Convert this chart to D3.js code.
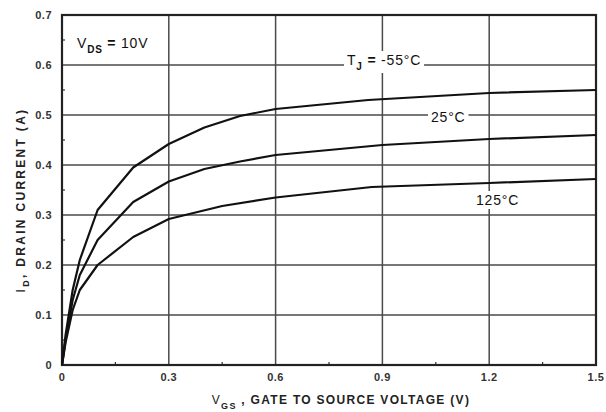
<!DOCTYPE html>
<html>
<head>
<meta charset="utf-8">
<script src="https://d3js.org/d3.v7.min.js"></script>
<style>
  body { margin: 0; background: #fff; }
  text { font-family: "Liberation Sans", Arial, sans-serif; }
</style>
</head>
<body>
<div class="chart"></div>
<script>
  // curve data (VGS in V, ID in A)
  const vgs55  = [0, 0.01, 0.03, 0.05, 0.1, 0.2, 0.3, 0.4, 0.5, 0.6, 0.86, 1.2, 1.5];
  const id55   = [0, 0.06, 0.15, 0.21, 0.31, 0.395, 0.442, 0.475, 0.498, 0.512, 0.53, 0.544, 0.55];
  const vgs25  = [0, 0.01, 0.03, 0.05, 0.1, 0.2, 0.3, 0.4, 0.5, 0.6, 0.9, 1.2, 1.5];
  const id25   = [0, 0.05, 0.13, 0.18, 0.25, 0.326, 0.367, 0.392, 0.407, 0.42, 0.44, 0.452, 0.46];
  const vgs125 = [0, 0.01, 0.03, 0.05, 0.1, 0.2, 0.3, 0.45, 0.6, 0.87, 1.2, 1.5];
  const id125  = [0, 0.045, 0.11, 0.15, 0.2, 0.256, 0.292, 0.318, 0.335, 0.356, 0.364, 0.372];

  const xTicks = [0, 0.3, 0.6, 0.9, 1.2, 1.5];
  const xTickLabels = ['0', '0.3', '0.6', '0.9', '1.2', '1.5'];
  const yTicks = [0, 0.1, 0.2, 0.3, 0.4, 0.5, 0.6, 0.7];
  const yTickLabels = ['0', '0.1', '0.2', '0.3', '0.4', '0.5', '0.6', '0.7'];
  const xMinor = [0.15, 0.45, 0.75, 1.05, 1.35];
  const yMinor = [0.05, 0.15, 0.25, 0.35, 0.45, 0.55, 0.65];

  const W = 606, H = 412;
  const pl = 62, pr = 596, pt = 15, pb = 365;

  const svg = d3.select('.chart')
    .append('svg')
    .attr('width', W)
    .attr('height', H);

  const x = d3.scaleLinear().domain([0, 1.5]).range([pl, pr]);
  const y = d3.scaleLinear().domain([0, 0.7]).range([pb, pt]);

  // grid
  svg.append('g').selectAll('line')
    .data(yTicks)
    .enter()
    .append('line')
    .attr('x1', pl).attr('x2', pr)
    .attr('y1', d => y(d)).attr('y2', d => y(d))
    .attr('stroke', '#4a4a4a')
    .attr('stroke-width', 1.5);

  svg.append('g').selectAll('line')
    .data(xTicks)
    .enter()
    .append('line')
    .attr('y1', pt).attr('y2', pb)
    .attr('x1', d => x(d)).attr('x2', d => x(d))
    .attr('stroke', '#4a4a4a')
    .attr('stroke-width', 1.5);

  // minor ticks along the frame
  svg.append('g').selectAll('line')
    .data(xMinor)
    .enter()
    .append('line')
    .attr('x1', d => x(d)).attr('x2', d => x(d))
    .attr('y1', pb).attr('y2', pb - 3)
    .attr('stroke', '#333').attr('stroke-width', 1.2);

  svg.append('g').selectAll('line')
    .data(yMinor)
    .enter()
    .append('line')
    .attr('x1', pl).attr('x2', pl + 3)
    .attr('y1', d => y(d)).attr('y2', d => y(d))
    .attr('stroke', '#333').attr('stroke-width', 1.2);

  // frame
  svg.append('rect')
    .attr('x', pl).attr('y', pt)
    .attr('width', pr - pl).attr('height', pb - pt)
    .attr('fill', 'none')
    .attr('stroke', '#222')
    .attr('stroke-width', 2.2);

  // tick labels
  svg.append('g').selectAll('text')
    .data(yTicks)
    .enter()
    .append('text')
    .attr('x', pl - 10)
    .attr('y', d => y(d) + 4)
    .attr('text-anchor', 'end')
    .attr('font-size', '11px')
    .attr('font-weight', 'bold')
    .attr('letter-spacing', '0.5px')
    .attr('fill', '#333')
    .text((d, i) => yTickLabels[i]);

  svg.append('g').selectAll('text')
    .data(xTicks)
    .enter()
    .append('text')
    .attr('x', d => x(d))
    .attr('y', pb + 16)
    .attr('text-anchor', 'middle')
    .attr('font-size', '11px')
    .attr('font-weight', 'bold')
    .attr('letter-spacing', '0.5px')
    .attr('fill', '#333')
    .text((d, i) => xTickLabels[i]);

  // curves
  const line = d3.line()
    .x(d => x(d[0]))
    .y(d => y(d[1]))
    .curve(d3.curveLinear);

  const series = [
    d3.zip(vgs55, id55),
    d3.zip(vgs25, id25),
    d3.zip(vgs125, id125)
  ];

  svg.append('g').selectAll('path')
    .data(series)
    .enter()
    .append('path')
    .attr('d', line)
    .attr('fill', 'none')
    .attr('stroke', '#111')
    .attr('stroke-width', 2.2)
    .attr('stroke-linejoin', 'round');

  // labels inside plot, with white box behind
  function label(cx, cy, parts) {
    const g = svg.append('g');
    const t = g.append('text')
      .attr('x', cx).attr('y', cy)
      .attr('font-size', '14px')
      .attr('letter-spacing', '0.8px')
      .attr('fill', '#111');
    parts.forEach(p => {
      const s = t.append('tspan').text(p.t);
      if (p.sub) s.attr('font-size', '10px').attr('dy', 5).attr('font-weight', 'bold');
      if (p.up) s.attr('dy', -5);
      if (p.bold) s.attr('font-weight', 'bold');
    });
    const b = t.node().getBBox();
    g.insert('rect', 'text')
      .attr('x', b.x - 3).attr('y', b.y - 1)
      .attr('width', b.width + 6).attr('height', b.height + 2)
      .attr('fill', '#fff');
  }

  label(77, 48, [{t: 'V'}, {t: 'DS', sub: true}, {t: ' = ', up: true, bold: true}, {t: '10V'}]);
  label(347, 65, [{t: 'T'}, {t: 'J', sub: true}, {t: '  =  ', up: true, bold: true}, {t: '-55°C'}]);
  label(431, 122, [{t: '25°C'}]);
  label(476, 205, [{t: '125°C'}]);

  // axis titles
  const xt = svg.append('text')
    .attr('x', 341)
    .attr('y', 404)
    .attr('text-anchor', 'middle')
    .attr('font-size', '12px')
    .attr('font-weight', 'bold')
    .attr('letter-spacing', '1.3px')
    .attr('fill', '#222');
  xt.append('tspan').text('V').attr('font-weight', 'normal');
  xt.append('tspan').text('GS').attr('font-size', '9px').attr('dy', 5);
  xt.append('tspan').text(' , GATE TO SOURCE VOLTAGE (V)').attr('dy', -5);

  const yt = svg.append('text')
    .attr('transform', 'translate(25,' + 200 + ') rotate(-90)')
    .attr('text-anchor', 'middle')
    .attr('font-size', '12px')
    .attr('font-weight', 'bold')
    .attr('letter-spacing', '2.3px')
    .attr('fill', '#222');
  yt.append('tspan').text('I').attr('font-weight', 'normal');
  yt.append('tspan').text('D').attr('font-size', '9px').attr('dy', 4);
  yt.append('tspan').text(', DRAIN CURRENT (A)').attr('dy', -4);
</script>
</body>
</html>
